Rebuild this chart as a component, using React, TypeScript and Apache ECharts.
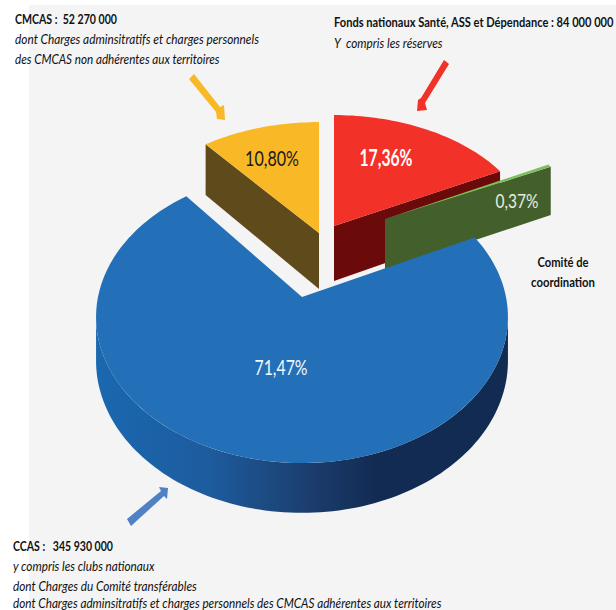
import React, { useEffect, useRef } from "react";
import * as echarts from "echarts";

// Clockwise from twelve o'clock
const categories = ["Fonds nationaux", "Comité de coordination", "CCAS", "CMCAS"];
const shares = [17.36, 0.37, 71.47, 10.8];
const percentLabels = ["17,36%", "0,37%", "71,47%", "10,80%"];

const FONT = 'Lato, "Open Sans", sans-serif';

// Layout and styling, by category
const sliceGeometry = [
  { cx: 334, cy: 226, sx: 0.976, sy: 0.88, depth: 55 },
  { cx: 385, cy: 219, sx: 0.96, sy: 0.875, depth: 51 },
  { cx: 302, cy: 297, sx: 1, sy: 1, depth: 43 },
  { cx: 319, cy: 233, sx: 0.98, sy: 0.88, depth: 56 },
];
const sliceColors = [
  { top: "#f23128", wall: "#6b0a0a" },
  { top: "#7cc05c", wall: "#435f2c" },
  { top: "#2470b8", wall: "#1d4f85" },
  { top: "#f9b927", wall: "#5f4a1b" },
];
const labelStyles = [
  { x: 386, y: 157, w: 53, fill: "#ffffff", font: `bold 22px ${FONT}` },
  { x: 517, y: 200, w: 43, fill: "#e6eee0", font: `20px ${FONT}` },
  { x: 281, y: 366, w: 53, fill: "#f4f8fc", font: `22px ${FONT}` },
  { x: 272, y: 157, w: 54, fill: "#1a1a1a", font: `22px ${FONT}` },
];
const drawOrder = [3, 0, 1, 2];

const PERSPECTIVE = 0.137;
const RADIUS_X = 204;
const RADIUS_Y = 143.3;

const total = shares.reduce((a, b) => a + b, 0);
const startAngles = shares.map((_, i) =>
  (shares.slice(0, i).reduce((a, b) => a + b, 0) / total) * Math.PI * 2
);

const measureCtx = document.createElement("canvas").getContext("2d")!;
function fitScale(text: string, font: string, width: number): number {
  measureCtx.font = font;
  return width / measureCtx.measureText(text).width;
}

function project(theta: number, g: any, down = 0): number[] {
  const u = Math.sin(theta);
  const v = -Math.cos(theta);
  const w = 1 / (1 - PERSPECTIVE * v);
  return [
    g.cx + RADIUS_X * g.sx * u * w,
    g.cy + RADIUS_Y * g.sy * v * w + down * w,
  ];
}

function arcPoints(a: number, b: number, g: any, down = 0): number[][] {
  const n = Math.max(2, Math.ceil(((b - a) / Math.PI) * 120));
  const pts: number[][] = [];
  for (let i = 0; i <= n; i++) pts.push(project(a + ((b - a) * i) / n, g, down));
  return pts;
}

function renderSlice(params: any) {
  const idx = drawOrder[params.dataIndex];
  const g = sliceGeometry[idx];
  const c = sliceColors[idx];
  const a = startAngles[idx];
  const b = a + (shares[idx] / total) * Math.PI * 2;
  const children: any[] = [];
  const apex = [g.cx, g.cy];
  const apexLow = [g.cx, g.cy + g.depth];

  // outer rim, only on the side that faces the viewer
  const sil = Math.acos(-PERSPECTIVE);
  const rimA = Math.max(a, sil);
  const rimB = Math.min(b, Math.PI * 2 - sil);
  if (rimB > rimA) {
    const pts = arcPoints(rimA, rimB, g).concat(arcPoints(rimA, rimB, g, g.depth).reverse());
    children.push({
      type: "polygon",
      shape: { points: pts },
      style: {
        fill: new echarts.graphic.LinearGradient(0, 0, 1, 0, [
          { offset: 0, color: "#1a68b0" },
          { offset: 0.28, color: "#1d5b9d" },
          { offset: 0.42, color: "#1c4a80" },
          { offset: 0.52, color: "#1b3d6e" },
          { offset: 0.68, color: "#122b52" },
          { offset: 1, color: "#122b52" },
        ]),
      },
    });
  }
  // radial cut faces
  if (Math.sin(b) > 0) {
    children.push({
      type: "polygon",
      shape: { points: [apex, project(b, g), project(b, g, g.depth), apexLow] },
      style: { fill: c.wall },
    });
  }
  if (Math.sin(a) < 0) {
    children.push({
      type: "polygon",
      shape: { points: [apex, project(a, g), project(a, g, g.depth), apexLow] },
      style: { fill: c.wall },
    });
  }
  children.push({
    type: "polygon",
    shape: { points: [apex, ...arcPoints(a, b, g)] },
    style: { fill: c.top },
  });
  const l = labelStyles[idx];
  children.push({
    type: "text",
    z2: 5,
    x: l.x,
    y: l.y,
    scaleX: fitScale(percentLabels[idx], l.font, l.w),
    style: {
      text: percentLabels[idx],
      fill: l.fill,
      font: l.font,
      align: "center",
      verticalAlign: "middle",
    },
  });
  return { type: "group", children };
}

function caption(text: string, x: number, y: number, width: number, kind: "b" | "i", align = "left", size = 14) {
  const font = `${kind === "b" ? "bold" : "italic"} ${size}px ${FONT}`;
  return {
    type: "text",
    z: 10,
    x,
    y,
    scaleX: fitScale(text, font, width),
    style: { text, fill: "#111111", align, verticalAlign: "middle", font },
  };
}

function arrow(points: number[][], fill: string) {
  return { type: "polygon", z: 5, shape: { points }, style: { fill } };
}

export default function App() {
  const ref = useRef<HTMLDivElement>(null);
  useEffect(() => {
    const chart = echarts.init(ref.current!, null, { renderer: "svg" });
    chart.setOption({
      animation: false,
      backgroundColor: "#ffffff",
      graphic: [
        { type: "rect", z: -10, shape: { x: 29, y: 5, width: 587, height: 605 }, style: { fill: "#f4f4f4" } },
        arrow([[189, 79], [194, 74], [220, 107], [224, 105], [225, 120], [217, 119], [216, 112]], "#f9b927"),
        arrow([[444, 60], [449, 64], [425, 103], [427, 110], [417, 111], [418, 100], [421, 98]], "#f23128"),
        arrow([[127, 519], [161, 491], [159, 487], [168, 488], [167, 499], [164, 496], [131, 526]], "#4f81c4"),
        caption("CMCAS :  52 270 000", 15, 19, 102, "b"),
        caption("dont Charges adminsitratifs et charges personnels", 15, 39, 244, "i"),
        caption("des CMCAS non adhérentes aux territoires", 15, 59, 205, "i"),
        caption("Fonds nationaux Santé, ASS et Dépendance : 84 000 000", 334, 22.5, 280, "b"),
        caption("Y  compris les réserves", 334, 42.5, 109, "i"),
        caption("Comité de", 563, 262, 51, "b", "center"),
        caption("coordination", 563, 282, 64, "b", "center"),
        caption("CCAS :   345 930 000", 13, 546, 100, "b"),
        caption("y compris les clubs nationaux", 13, 566, 142, "i"),
        caption("dont Charges du Comité transférables", 13, 586, 184, "i"),
        caption("dont Charges adminsitratifs et charges personnels des CMCAS adhérentes aux territoires", 13, 603, 429, "i", "left", 13),
      ],
      series: [
        {
          type: "custom",
          coordinateSystem: "none",
          silent: true,
          renderItem: renderSlice,
          data: drawOrder.map((i) => ({ name: categories[i], value: shares[i] })),
        },
      ],
    });
    return () => chart.dispose();
  }, []);
  return <div ref={ref} style={{ position: "absolute", left: 0, top: 0, width: 616, height: 610 }} />;
}
